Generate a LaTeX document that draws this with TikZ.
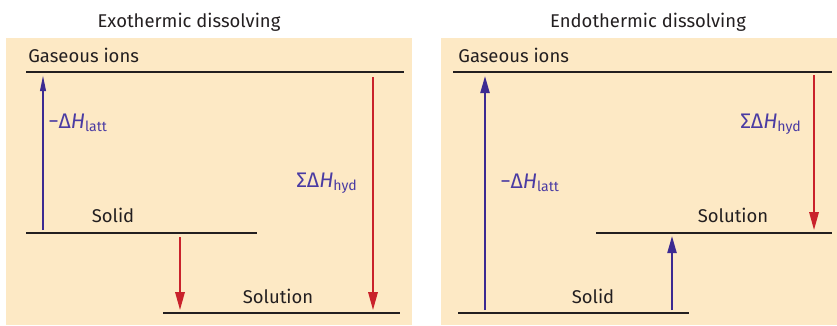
\documentclass[tikz,border=0pt]{standalone}
\usepackage{fontspec}
\setmainfont{Fira Sans}
\usetikzlibrary{arrows.meta}
\definecolor{panelbg}{HTML}{FDE9C5}
\definecolor{upblue}{HTML}{3C2A92}
\definecolor{downred}{HTML}{C9222B}
\definecolor{dhblue}{HTML}{4A3BA3}
\definecolor{inkgray}{HTML}{231F20}
\tikzset{
  level/.style={draw=inkgray,line width=1.2pt},
  uparrow/.style={draw=upblue,line width=1.2pt,-{Triangle[length=0.34cm,width=0.18cm]}},
  downarrow/.style={draw=downred,line width=1pt,-{Triangle[length=0.36cm,width=0.19cm]}},
  statelabel/.style={text=inkgray,font=\fontsize{10.5}{12}\selectfont,inner sep=0pt},
  dhlabel/.style={text=dhblue,font=\fontsize{12}{14}\selectfont,inner sep=0pt,anchor=base west}
}
\newcommand{\dhlatt}{−Δ\textit{H}\textsubscript{latt}}
\newcommand{\dhhyd}{ΣΔ\textit{H}\textsubscript{hyd}}
\begin{document}
\begin{tikzpicture}[x=0.02cm,y=-0.02cm]
  \useasboundingbox (0,0) rectangle (837,325);
  % panels
  \fill[panelbg] (6,38) rectangle (412,325);
  \fill[panelbg] (441,38) rectangle (837,325);
  \node[statelabel,anchor=base] (exotitle) at (189,27) {Exothermic dissolving};
  \node[statelabel,anchor=base] (endotitle) at (648,27) {Endothermic dissolving};

  % exothermic
  \draw[level] (26,72) -- (404,72);
  \draw[level] (26,233) -- (257,233);
  \draw[level] (163,313) -- (400,313);
  \node[statelabel,anchor=base west] (exogas) at (28,62) {Gaseous ions};
  \node[statelabel,anchor=base] (exosolid) at (113,222) {Solid};
  \node[statelabel,anchor=base] (exosoln) at (278,303) {Solution};
  \coordinate (exolattlo) at (43,230);
  \coordinate (exolatthi) at (43,75);
  \coordinate (exodisshi) at (180,237);
  \coordinate (exodisslo) at (180,310);
  \coordinate (exohydhi) at (373,77);
  \coordinate (exohydlo) at (373,310);
  \draw[uparrow,-{Triangle[length=0.32cm,width=0.11cm]}] (exolattlo) -- (exolatthi);
  \draw[downarrow] (exodisshi) -- (exodisslo);
  \draw[downarrow] (exohydhi) -- (exohydlo);
  \node[dhlabel] (exolatt) at (48,128) {\dhlatt};
  \node[dhlabel] (exohyd) at (296,187) {\dhhyd};

  % endothermic
  \draw[level] (453,72) -- (832,72);
  \draw[level] (596,233) -- (832,233);
  \draw[level] (458,313) -- (689,313);
  \node[statelabel,anchor=base west] (endogas) at (458,62) {Gaseous ions};
  \node[statelabel,anchor=base] (endosoln) at (733,222) {Solution};
  \node[statelabel,anchor=base] (endosolid) at (593,303) {Solid};
  \coordinate (endolattlo) at (485,310);
  \coordinate (endolatthi) at (485,76);
  \coordinate (endodisslo) at (672,310);
  \coordinate (endodisshi) at (672,236);
  \coordinate (endohydhi) at (814,75);
  \coordinate (endohydlo) at (814,230);
  \draw[uparrow] (endolattlo) -- (endolatthi);
  \draw[uparrow] (endodisslo) -- (endodisshi);
  \draw[downarrow] (endohydhi) -- (endohydlo);
  \node[dhlabel] (endolatt) at (500,188) {\dhlatt};
  \node[dhlabel] (endohyd) at (740,128) {\dhhyd};
\end{tikzpicture}
\end{document}
